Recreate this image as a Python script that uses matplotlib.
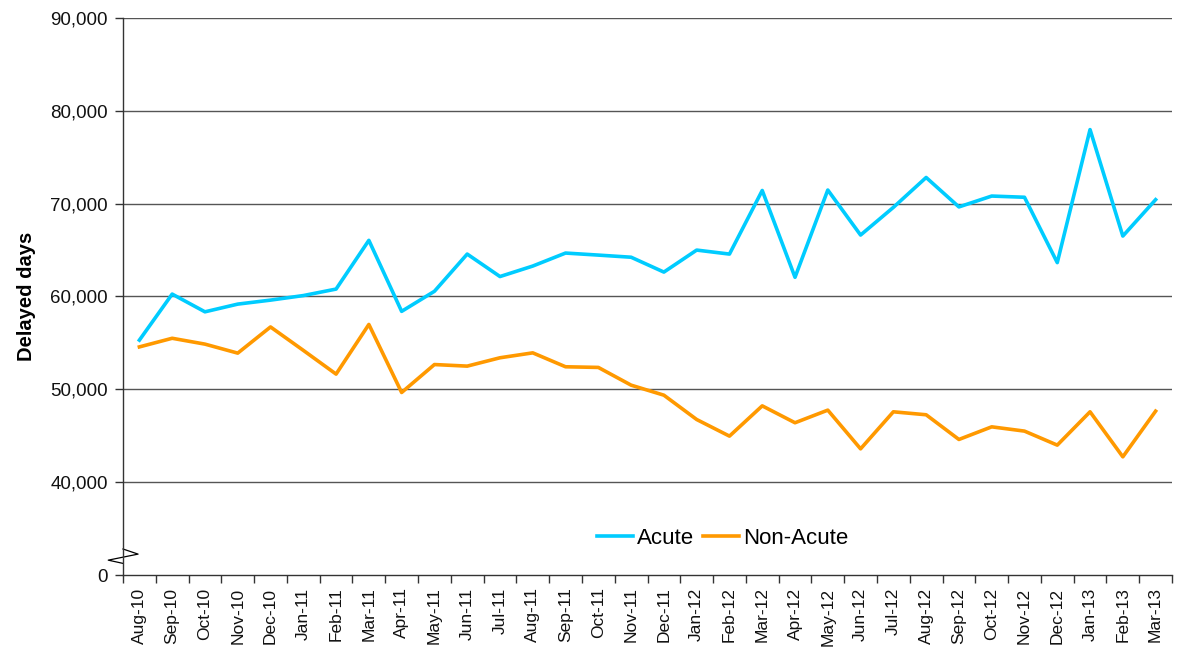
import matplotlib
matplotlib.use("Agg")
import matplotlib.pyplot as plt
from matplotlib.lines import Line2D

months = ["Aug-10", "Sep-10", "Oct-10", "Nov-10", "Dec-10", "Jan-11", "Feb-11", "Mar-11",
          "Apr-11", "May-11", "Jun-11", "Jul-11", "Aug-11", "Sep-11", "Oct-11", "Nov-11",
          "Dec-11", "Jan-12", "Feb-12", "Mar-12", "Apr-12", "May-12", "Jun-12", "Jul-12",
          "Aug-12", "Sep-12", "Oct-12", "Nov-12", "Dec-12", "Jan-13", "Feb-13", "Mar-13"]

acute = [55300, 60260, 58350, 59180, 59610, 60100, 60800, 66050,
         58400, 60560, 64570, 62150, 63280, 64680, 64460, 64230,
         62630, 65000, 64570, 71420, 62070, 71470, 66620, 69600,
         72820, 69650, 70820, 70690, 63650, 77980, 66510, 70430]

non_acute = [54570, 55500, 54870, 53900, 56720, 54200, 51640, 56990,
             49660, 52670, 52500, 53400, 53930, 52430, 52360, 50450,
             49370, 46750, 44960, 48220, 46400, 47760, 43590, 47580,
             47260, 44600, 45960, 45500, 43990, 47580, 42730, 47650]

y_ticks = [30000, 40000, 50000, 60000, 70000, 80000, 90000]
y_tick_labels = ["0", "40,000", "50,000", "60,000", "70,000", "80,000", "90,000"]

plt.rcParams['font.family'] = ['Liberation Sans', 'DejaVu Sans']

fig = plt.figure(figsize=(11.78, 6.48), dpi=100)
ax = fig.add_axes([123 / 1178, 1 - 575 / 648, (1172 - 123) / 1178, (575 - 18) / 648])

x = list(range(len(months)))
ax.plot(x, acute, color="#00CCFF", lw=2.6, label="Acute")
ax.plot(x, non_acute, color="#FF9900", lw=2.6, label="Non-Acute")

ax.set_xlim(-0.5, len(months) - 0.5)
ax.set_ylim(30000, 90000)

# gridlines (excluding 0)
for v in y_ticks[1:]:
    ax.axhline(v, color="#555555", lw=1.0, zorder=0)

ax.set_yticks(y_ticks)
ax.set_yticklabels(y_tick_labels, fontsize=13.5, color="#111111")
ax.tick_params(axis="y", direction="out", length=6, width=1, color="#333333", pad=5)

# category axis: ticks at boundaries, labels centered
ax.set_xticks([i - 0.5 for i in range(len(months) + 1)])
ax.set_xticklabels([])
ax.set_xticks(x, minor=True)
ax.set_xticklabels(months, minor=True, rotation=90, fontsize=12.5, color="#111111")
ax.tick_params(axis="x", which="major", direction="out", length=6, width=1, color="#333333")
ax.tick_params(axis="x", which="minor", length=0, pad=9)

for s in ["top", "right"]:
    ax.spines[s].set_visible(False)
ax.spines["left"].set_color("#333333")
ax.spines["bottom"].set_color("#333333")
ax.spines["left"].set_linewidth(1)
ax.spines["bottom"].set_linewidth(1)

ax.set_ylabel("Delayed days", fontsize=14.5, fontweight="bold", labelpad=10)

# axis break marker (zigzag on the y axis)
brk = Line2D([-0.5, -0.04, -0.95, -0.5], [32800, 32250, 31600, 31250],
             color="black", lw=0.9, clip_on=False)
ax.add_line(brk)

leg = ax.legend(loc="center", bbox_to_anchor=(0.572, 0.066), ncol=2, frameon=False,
                fontsize=16, handlelength=1.6, handletextpad=0.2, columnspacing=0.4)

fig.savefig("out.png", dpi=100)
